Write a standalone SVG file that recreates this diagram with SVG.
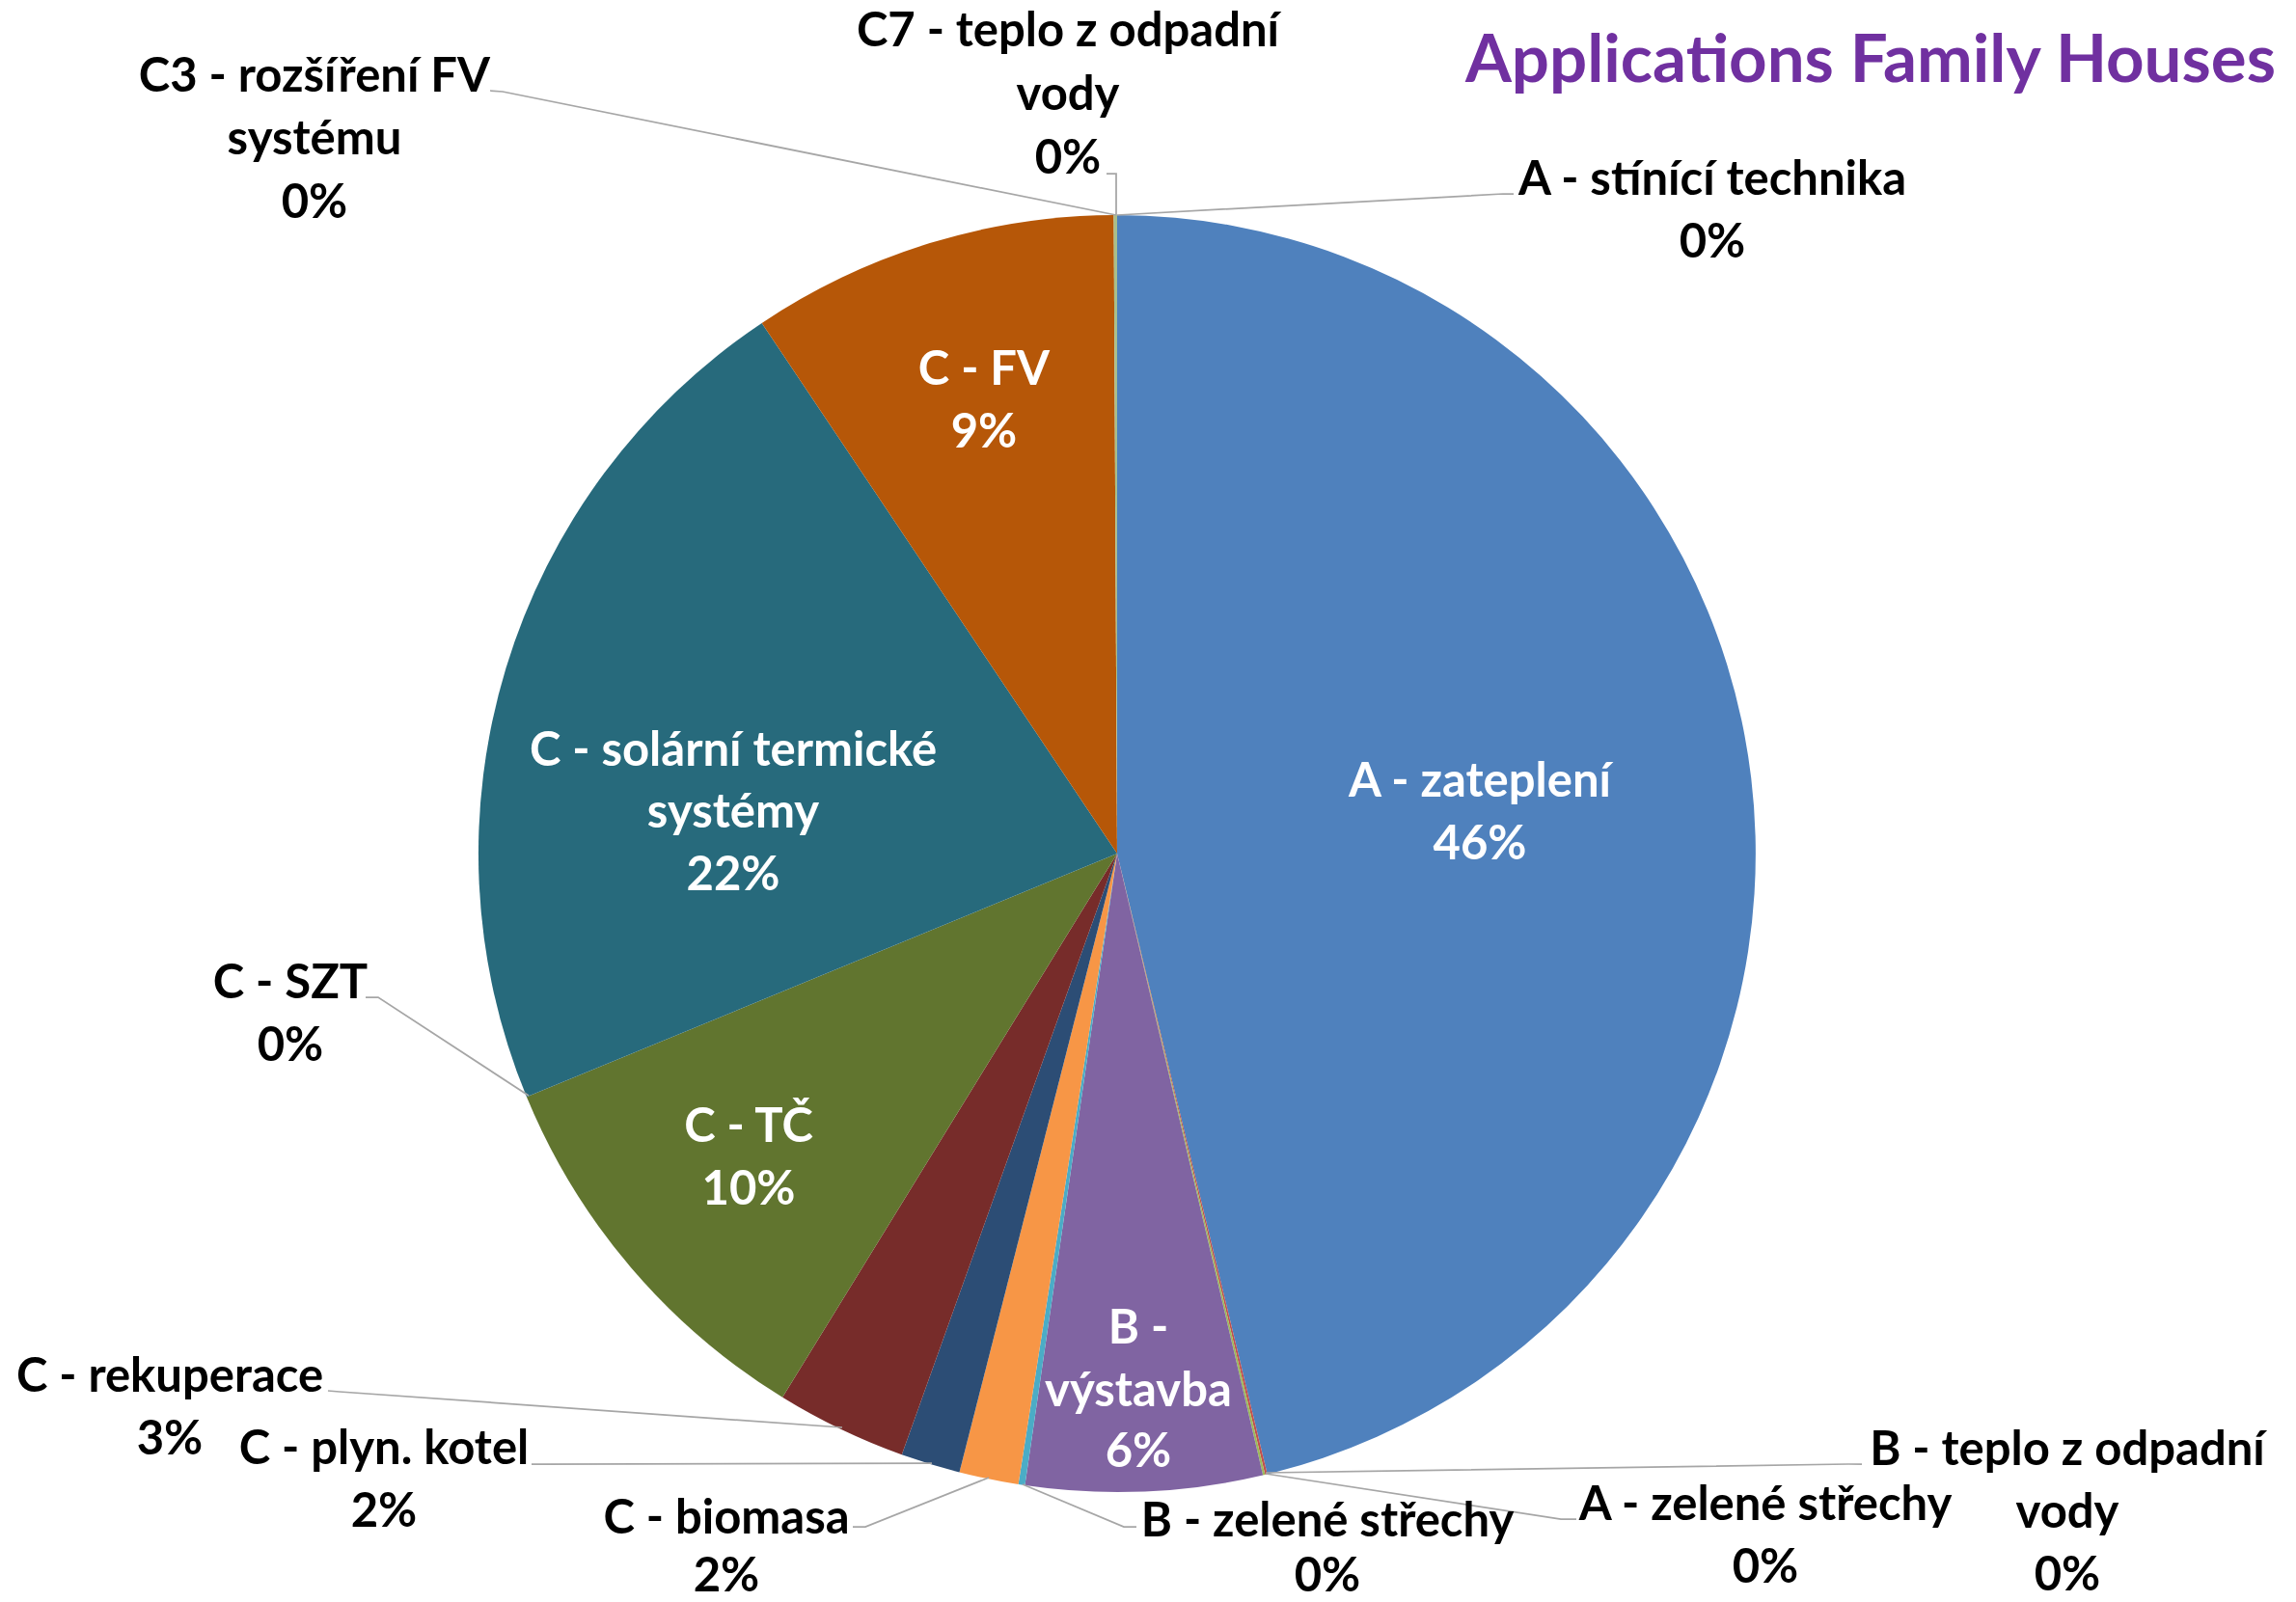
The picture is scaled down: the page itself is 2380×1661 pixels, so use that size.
<svg xmlns="http://www.w3.org/2000/svg" width="2380" height="1661" viewBox="0 0 2380 1661">
<style>
.t{font-family:Lato,"Liberation Sans",sans-serif;font-weight:bold;font-size:49px;text-anchor:middle;fill:#000}
.w{fill:#fff}
.title{font-family:Lato,"Liberation Sans",sans-serif;font-weight:bold;font-size:68px;fill:#7030A0}
.lead{fill:none;stroke:#A6A6A6;stroke-width:1.75}
</style>
<rect width="2380" height="1661" fill="#fff"/>
<text id="title" class="title" x="1519" y="85" textLength="840" lengthAdjust="spacingAndGlyphs">Applications Family Houses</text>
<g id="pie">
<path id="s-a-zatepleni" fill="#4F81BD" d="M1158,885 L1158,223 A662,662 0 0 1 1313.7,1528.4 Z"/>
<path id="s-a-zelene" fill="#C0504D" d="M1158,885 L1313.7,1528.4 A662,662 0 0 1 1311.4,1529 Z"/>
<path id="s-b-teplo" fill="#9BBB59" d="M1158,885 L1311.4,1529 A662,662 0 0 1 1309.2,1529.5 Z"/>
<path id="s-b-vystavba" fill="#8064A2" d="M1158,885 L1309.2,1529.5 A662,662 0 0 1 1062.4,1540.1 Z"/>
<path id="s-b-zelene" fill="#4BACC6" d="M1158,885 L1062.4,1540.1 A662,662 0 0 1 1055.6,1539 Z"/>
<path id="s-c-biomasa" fill="#F79646" d="M1158,885 L1055.6,1539 A662,662 0 0 1 994.5,1526.5 Z"/>
<path id="s-c-plyn" fill="#2C4D75" d="M1158,885 L994.5,1526.5 A662,662 0 0 1 934.8,1508.3 Z"/>
<path id="s-c-rekuperace" fill="#772C2A" d="M1158,885 L934.8,1508.3 A662,662 0 0 1 811.1,1448.8 Z"/>
<path id="s-c-tc" fill="#61752F" d="M1158,885 L811.1,1448.8 A662,662 0 0 1 545.9,1137.3 Z"/>
<path id="s-c-solarni" fill="#276A7C" d="M1158,885 L545.9,1137.3 A662,662 0 0 1 789.7,334.9 Z"/>
<path id="s-c-fv" fill="#B65708" d="M1158,885 L789.7,334.9 A662,662 0 0 1 1154.5,223 Z"/>
<path id="s-c3-c7" fill="#A9BF8A" d="M1158,885 L1154.5,223 A662,662 0 0 1 1158,223 Z"/>
</g>
<g id="connectors">
<polyline class="lead" points="508,94 521,95 1157,223"/>
<polyline class="lead" points="1147,180 1157,180 1157,223"/>
<polyline class="lead" points="1569,201 1558,201 1158,223"/>
<polyline class="lead" points="1312,1527 1916,1518 1930,1518"/>
<polyline class="lead" points="1312,1528 1618,1575 1634,1575"/>
<polyline class="lead" points="1060,1539 1165,1583 1178,1583"/>
<polyline class="lead" points="1025,1532 897,1583 884,1583"/>
<polyline class="lead" points="551,1518 562,1518 966,1517"/>
<polyline class="lead" points="340,1442 352,1443 873,1480"/>
<polyline class="lead" points="379,1034 392,1034 548,1136"/>
</g>
<g id="l-a-zatepleni"><text class="t w" x="1534" y="826">A - zateplení</text><text class="t w" x="1534" y="891">46%</text></g>
<g id="l-c-fv"><text class="t w" x="1020" y="399">C - FV</text><text class="t w" x="1020" y="464">9%</text></g>
<g id="l-c-solarni"><text class="t w" x="760" y="794">C - solární termické</text><text class="t w" x="760" y="858">systémy</text><text class="t w" x="760" y="923">22%</text></g>
<g id="l-c-tc"><text class="t w" x="776" y="1184">C - TČ</text><text class="t w" x="776" y="1249">10%</text></g>
<g id="l-b-vystavba"><text class="t w" x="1180" y="1393">B -</text><text class="t w" x="1180" y="1458">výstavba</text><text class="t w" x="1180" y="1521">6%</text></g>
<g id="l-c3"><text class="t" x="326" y="95">C3 - rozšíření FV</text><text class="t" x="326" y="160">systému</text><text class="t" x="326" y="226">0%</text></g>
<g id="l-c7"><text class="t" x="1107" y="48">C7 - teplo z odpadní</text><text class="t" x="1107" y="114">vody</text><text class="t" x="1107" y="180">0%</text></g>
<g id="l-a-stinici"><text class="t" x="1775" y="202">A - stínící technika</text><text class="t" x="1775" y="267">0%</text></g>
<g id="l-c-szt"><text class="t" x="301" y="1035">C - SZT</text><text class="t" x="301" y="1100">0%</text></g>
<g id="l-c-rekuperace"><text class="t" x="176" y="1443">C - rekuperace</text><text class="t" x="176" y="1508">3%</text></g>
<g id="l-c-plyn"><text class="t" x="398" y="1518">C - plyn. kotel</text><text class="t" x="398" y="1583">2%</text></g>
<g id="l-c-biomasa"><text class="t" x="753" y="1590">C - biomasa</text><text class="t" x="753" y="1650">2%</text></g>
<g id="l-b-zelene"><text class="t" x="1376" y="1593">B - zelené střechy</text><text class="t" x="1376" y="1650">0%</text></g>
<g id="l-a-zelene"><text class="t" x="1830" y="1576">A - zelené střechy</text><text class="t" x="1830" y="1641">0%</text></g>
<g id="l-b-teplo"><text class="t" x="2143" y="1519">B - teplo z odpadní</text><text class="t" x="2143" y="1584">vody</text><text class="t" x="2143" y="1649">0%</text></g>
</svg>
